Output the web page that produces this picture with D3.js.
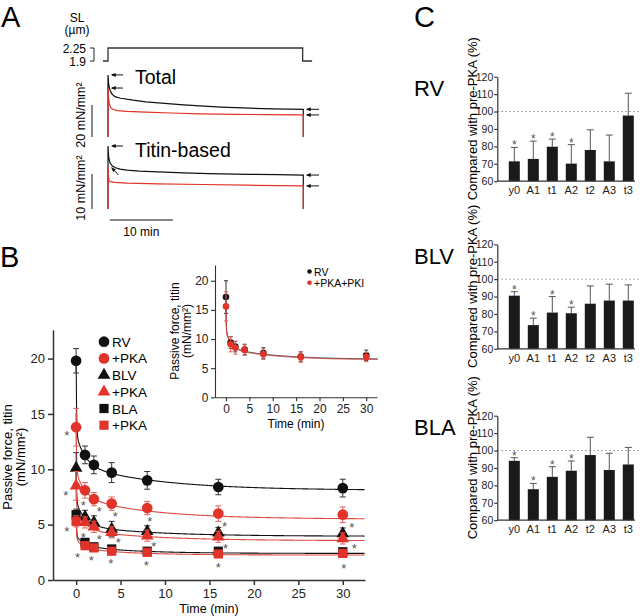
<!DOCTYPE html>
<html>
<head>
<meta charset="utf-8">
<script src="https://cdn.jsdelivr.net/npm/d3@7"></script>
<style>
  body { margin: 0; background: #fff; }
  svg { display: block; font-family: "Liberation Sans", Arial, Helvetica, sans-serif; }
</style>
</head>
<body>
<svg id="fig" width="640" height="616"></svg>
<script>
// ---------- panel A: recorded traces (time in min) ----------
var slTime = [-0.8, 0, 0, 30.9, 30.9, 32.4];
var slLength = [1.9, 1.9, 2.25, 2.25, 1.9, 1.9];
var totalTime = [0, 0, 0.1, 0.3, 0.6, 1.1, 2, 4, 6, 9, 12, 14.6, 18, 22.5, 26, 31, 31];
var totalCtrl = [0, 38.8, 33, 29.5, 27, 25.2, 24.2, 23, 22, 21, 20.1, 19.4, 18.7, 18, 17.6, 17.3, 0];
var totalPkaTime = [0, 0, 0.08, 0.2, 0.4, 0.8, 1.5, 3, 6, 10, 14.6, 20, 25, 31, 31];
var totalPka = [0, 30.6, 25, 21, 18.5, 17.2, 16.5, 16, 15.5, 15, 14.5, 14.2, 14, 13.8, 0];
var titinTime = [0, 0, 0.1, 0.3, 0.7, 1.2, 1.9, 3, 5, 8, 12, 16, 22, 27, 31, 31];
var titinCtrl = [0, 18, 15, 13.2, 12.3, 11.8, 11.4, 11.1, 10.8, 10.6, 10.3, 10.1, 9.9, 9.8, 9.7, 0];
var titinPkaTime = [0, 0, 0.05, 0.15, 0.35, 1, 3, 8, 15, 22, 31, 31];
var titinPka = [0, 12, 9.5, 8.2, 7.8, 7.6, 7.4, 7.2, 7.0, 6.8, 6.6, 0];

// ---------- panel B: passive titin force (mN/mm2) ----------
var times = [0, 1, 2, 4, 8, 16, 30];
var rv = [19.8, 11.3, 10.4, 9.7, 9.0, 8.4, 8.3];
var rvErr = [1.1, 0.8, 0.8, 0.9, 0.8, 0.7, 0.8];
var rvPka = [13.8, 8.1, 7.3, 6.9, 6.5, 6.0, 5.9];
var rvPkaErr = [1.7, 0.7, 0.6, 0.6, 0.6, 0.7, 0.7];
var blv = [10.1, 5.7, 5.2, 4.6, 4.4, 4.25, 4.2];
var blvErr = [1.4, 0.6, 0.6, 0.7, 0.5, 0.5, 0.5];
var blvPka = [8.5, 5.2, 4.8, 4.3, 4.0, 3.9, 3.75];
var blvPkaErr = [1.3, 0.5, 0.5, 0.5, 0.5, 0.5, 0.5];
var bla = [5.9, 3.4, 3.0, 2.8, 2.6, 2.6, 2.55];
var blaErr = [0.5, 0.3, 0.3, 0.3, 0.3, 0.3, 0.3];
var blaPka = [5.3, 3.1, 2.9, 2.6, 2.5, 2.35, 2.4];
var blaPkaErr = [0.5, 0.3, 0.3, 0.3, 0.3, 0.3, 0.3];
// fit parameters: y0, A1, t1, A2, t2, A3, t3
var rvFit = [8.1, 7.0, 0.05, 2.8, 1.0, 2.3, 9];
var rvPkaFit = [5.5, 5.2, 0.05, 2.3, 1.0, 2.0, 8];
var blvFit = [3.95, 3.5, 0.05, 2.1, 1.0, 1.0, 8];
var blvPkaFit = [3.55, 2.5, 0.05, 1.8, 1.0, 1.0, 8];
var blaFit = [2.4, 2.3, 0.05, 0.85, 1.0, 0.7, 6];
var blaPkaFit = [2.25, 2.0, 0.05, 0.8, 1.0, 0.6, 6];
var legendLabels = ["RV", "+PKA", "BLV", "+PKA", "BLA", "+PKA"];
var starTime = [-1.05, -1.15, 0.8, 2.6, 4.4, 8.3, 16.7, 31.0, -1.05, 0.8, 2.6, 4.75, 8.75, 16.8, 31.3, 0.15, 1.7, 3.9, 7.9, 16.0, 30.1];
var starForce = [13.2, 7.8, 6.9, 6.4, 5.9, 5.5, 5.0, 4.9, 4.6, 4.0, 3.8, 3.6, 3.25, 3.0, 3.0, 2.25, 1.95, 1.65, 1.5, 1.35, 1.25];
var xTicks = [0, 5, 10, 15, 20, 25, 30];
var yTicks = [0, 5, 10, 15, 20];

// inset: RV vs +PKA+PKI
var insetRv = [17.2, 9.4, 8.7, 8.2, 7.6, 7.0, 7.2];
var insetRvErr = [2.8, 1.0, 0.9, 0.9, 0.9, 0.8, 0.9];
var insetPki = [15.6, 9.1, 8.5, 8.1, 7.4, 6.9, 6.9];
var insetPkiErr = [2.5, 1.3, 1.1, 0.9, 0.9, 0.9, 0.8];
var insetRvFit = [6.5, 5.7, 0.05, 3.0, 1.0, 2.0, 10];
var insetPkiFit = [6.4, 4.3, 0.05, 2.9, 1.0, 2.0, 10];
var insetLabels = ["RV", "+PKA+PKI"];

// ---------- panel C: % of pre-PKA ----------
var params = ["y0", "A1", "t1", "A2", "t2", "A3", "t3"];
var rvPct = [71.4, 72.8, 79.8, 70.1, 77.9, 71.4, 97.7];
var rvPctErr = [8.0, 10.2, 4.4, 10.9, 11.6, 15.1, 12.8];
var blvPct = [90.5, 73.6, 80.8, 80.4, 85.9, 87.7, 87.7];
var blvPctErr = [2.3, 4.0, 9.2, 3.5, 10.2, 9.4, 9.0];
var blaPct = [94.1, 77.8, 84.9, 88.4, 97.4, 88.8, 92.0];
var blaPctErr = [1.8, 3.3, 5.8, 5.6, 10.2, 9.6, 9.8];
var significant = [1, 1, 1, 1, 0, 0, 0];
var pctTicks = [60, 70, 80, 90, 100, 110, 120];

var red = "#e2332b", redFit = "#dd4a44", black = "#111";

var svg = d3.select("#fig");
svg.append("rect").attr("width", 640).attr("height", 616).attr("fill", "#fff");

svg.append("defs").append("marker")
    .attr("id", "head")
    .attr("viewBox", "0 0 8 8")
    .attr("refX", 6).attr("refY", 4)
    .attr("markerWidth", 5).attr("markerHeight", 5)
    .attr("orient", "auto")
  .append("path")
    .attr("d", "M0,0.8 L8,4 L0,7.2 Z")
    .attr("fill", "#111");

function panelLetter(txt, x, y) {
  svg.append("text").attr("x", x).attr("y", y).style("font-size", "29px").text(txt);
}
panelLetter("A", 1, 26.5);
panelLetter("B", 0, 266.5);
panelLetter("C", 414, 26.5);

function zip(a, b) { return a.map(function(d, i) { return [d, b[i]]; }); }

// ================= A =================
var xA = d3.scaleLinear().domain([0, 10]).range([108, 171]);
var ySL = d3.scaleLinear().domain([1.9, 2.25]).range([61, 48]);
var yTot = d3.scaleLinear().domain([0, 20]).range([137, 105]);
var yTit = d3.scaleLinear().domain([0, 10]).range([209, 174]);

var gA = svg.append("g");
var lineSL = d3.line().x(function(d) { return xA(d[0]); }).y(function(d) { return ySL(d[1]); });
gA.append("path").datum(zip(slTime, slLength)).attr("d", lineSL)
    .attr("fill", "none").attr("stroke", "#333").attr("stroke-width", 1.3);

gA.append("text").attr("x", 77).attr("y", 21.5).attr("text-anchor", "middle").style("font-size", "12px").text("SL");
gA.append("text").attr("x", 77).attr("y", 34).attr("text-anchor", "middle").style("font-size", "12px").text("(\u00b5m)");
gA.append("text").attr("x", 86).attr("y", ySL(2.25) + 4.5).attr("text-anchor", "end").style("font-size", "12px").text("2.25");
gA.append("text").attr("x", 86).attr("y", ySL(1.9) + 4.5).attr("text-anchor", "end").style("font-size", "12px").text("1.9");
gA.append("path")
    .attr("d", "M90," + ySL(2.25) + "H94V" + ySL(1.9) + "H90")
    .attr("fill", "none").attr("stroke", "#222").attr("stroke-width", 1);

function trace(t, f, yScale, color) {
  var ln = d3.line().x(function(d) { return xA(d[0]); }).y(function(d) { return yScale(d[1]); });
  gA.append("path").datum(zip(t, f)).attr("d", ln)
      .attr("fill", "none").attr("stroke", color).attr("stroke-width", 1.2);
}
trace(totalTime, totalCtrl, yTot, black);
trace(totalPkaTime, totalPka, yTot, red);
trace(titinTime, titinCtrl, yTit, black);
trace(titinPkaTime, titinPka, yTit, red);

function arrow(x1, y1, x2, y2) {
  gA.append("line").attr("x1", x1).attr("y1", y1).attr("x2", x2).attr("y2", y2)
      .attr("stroke", "#111").attr("stroke-width", 1).attr("marker-end", "url(#head)");
}
arrow(123, yTot(38.8), 112, yTot(38.8));
arrow(123, yTot(30.6), 112, yTot(30.6));
arrow(319, yTot(17.3), 307, yTot(17.3));
arrow(319, yTot(13.8), 307, yTot(13.8));
arrow(123, yTit(18), 112, yTit(18));
arrow(118.5, 175, 112, 168);
arrow(319, yTit(9.7), 307, yTit(9.7));
arrow(319, yTit(6.6), 307, yTit(6.6));

gA.append("text").attr("x", 135).attr("y", 84).style("font-size", "19.5px").text("Total");
gA.append("text").attr("x", 135).attr("y", 157).style("font-size", "19.5px").text("Titin-based");

// scale bars
gA.append("line").attr("x1", 92).attr("x2", 92).attr("y1", yTot(0)).attr("y2", yTot(20)).attr("stroke", "#111");
gA.append("line").attr("x1", 92).attr("x2", 92).attr("y1", yTit(0)).attr("y2", yTit(10)).attr("stroke", "#111");
gA.append("line").attr("x1", xA(0.3)).attr("x2", xA(10.3)).attr("y1", 220).attr("y2", 220).attr("stroke", "#111");
gA.append("text").attr("x", (xA(0.3) + xA(10.3)) / 2).attr("y", 236).attr("text-anchor", "middle").style("font-size", "12px").text("10 min");
gA.append("text").attr("transform", "translate(85,115) rotate(-90)").attr("text-anchor", "middle").style("font-size", "12.5px").text("20 mN/mm\u00b2");
gA.append("text").attr("transform", "translate(85,188) rotate(-90)").attr("text-anchor", "middle").style("font-size", "12.5px").text("10 mN/mm\u00b2");

// ================= B =================
function fitValue(p, t) {
  return p[0] + p[1] * Math.exp(-t / p[2]) + p[3] * Math.exp(-t / p[4]) + p[5] * Math.exp(-t / p[6]);
}

function styleAxis(g, size, width) {
  g.selectAll("path, line").attr("stroke", "#333").attr("stroke-width", width);
  g.selectAll("text").attr("fill", "#222").style("font-size", size);
  g.attr("font-family", null);
}

var xB = d3.scaleLinear().domain([-2.6, 32.5]).range([53, 365]);
var yB = d3.scaleLinear().domain([0, 22.6]).range([580, 329.8]);
var gB = svg.append("g");

gB.append("g").attr("transform", "translate(0,580)")
    .call(d3.axisBottom(xB).tickValues(xTicks).tickSize(5).tickSizeOuter(0).tickPadding(4))
    .call(styleAxis, "13px", 1.5);
gB.append("g").attr("transform", "translate(53,0)")
    .call(d3.axisLeft(yB).tickValues(yTicks).tickSize(5).tickSizeOuter(0).tickPadding(3))
    .call(styleAxis, "13px", 1.5);
gB.append("text").attr("x", 209).attr("y", 613).attr("text-anchor", "middle").style("font-size", "12.5px").text("Time (min)");
gB.append("text").attr("transform", "translate(12,457) rotate(-90)").attr("text-anchor", "middle").style("font-size", "13px").text("Passive force, titin");
gB.append("text").attr("transform", "translate(25,457) rotate(-90)").attr("text-anchor", "middle").style("font-size", "13px").text("(mN/mm\u00b2)");

var series = [
  {v: rv, e: rvErr, fit: rvFit, color: black, fitColor: black, shape: d3.symbolCircle, size: 90},
  {v: rvPka, e: rvPkaErr, fit: rvPkaFit, color: red, fitColor: redFit, shape: d3.symbolCircle, size: 90},
  {v: blv, e: blvErr, fit: blvFit, color: black, fitColor: black, shape: d3.symbolTriangle, size: 70},
  {v: blvPka, e: blvPkaErr, fit: blvPkaFit, color: red, fitColor: redFit, shape: d3.symbolTriangle, size: 70},
  {v: bla, e: blaErr, fit: blaFit, color: black, fitColor: black, shape: d3.symbolSquare, size: 85},
  {v: blaPka, e: blaPkaErr, fit: blaPkaFit, color: red, fitColor: redFit, shape: d3.symbolSquare, size: 85}
];

var fitGrid = d3.range(0, 32.5, 0.05);

function drawFit(g, s, x, y, fitW) {
  var ln = d3.line().x(function(t) { return x(t); }).y(function(t) { return y(fitValue(s.fit, t)); });
  g.append("path").datum(fitGrid).attr("d", ln)
      .attr("fill", "none").attr("stroke", s.fitColor).attr("stroke-width", fitW);
}

function drawPoints(g, s, x, y, capW, drawMarker) {
  var eb = g.append("g").attr("stroke", s.color === red ? "#e4605a" : "#333").attr("stroke-width", 1);
  times.forEach(function(t, i) {
    var cx = x(t), lo = y(s.v[i] - s.e[i]), hi = y(s.v[i] + s.e[i]);
    eb.append("line").attr("x1", cx).attr("x2", cx).attr("y1", lo).attr("y2", hi);
    eb.append("line").attr("x1", cx - capW).attr("x2", cx + capW).attr("y1", lo).attr("y2", lo);
    eb.append("line").attr("x1", cx - capW).attr("x2", cx + capW).attr("y1", hi).attr("y2", hi);
  });
  times.forEach(function(t, i) { drawMarker(g, x(t), y(s.v[i])); });
}

series.forEach(function(s) { drawFit(gB, s, xB, yB, 1.1); });
series.forEach(function(s) {
  drawPoints(gB, s, xB, yB, 3, function(g, cx, cy) {
    g.append("path").attr("d", d3.symbol().type(s.shape).size(s.size)())
        .attr("transform", "translate(" + cx + "," + cy + ")").attr("fill", s.color);
  });
});

gB.selectAll(".star").data(starTime).enter().append("text")
    .attr("class", "star")
    .attr("x", function(d) { return xB(d); })
    .attr("y", function(d, i) { return yB(starForce[i]) + 6.5; })
    .attr("text-anchor", "middle").attr("fill", "#555").style("font-size", "13px")
    .text("*");

legendLabels.forEach(function(lab, i) {
  var s = series[i], ly = 341.7 + i * 16.7;
  gB.append("path").attr("d", d3.symbol().type(s.shape).size(s.size)())
      .attr("transform", "translate(104," + ly + ")").attr("fill", s.color);
  gB.append("text").attr("x", 112).attr("y", ly + 5).style("font-size", "13.5px").text(lab);
});

// ---- inset ----
var xI = d3.scaleLinear().domain([-2.35, 32.3]).range([215, 377]);
var yI = d3.scaleLinear().domain([0, 22.7]).range([397.3, 265]);
var gI = svg.append("g");
gI.append("g").attr("transform", "translate(0,397.3)")
    .call(d3.axisBottom(xI).tickValues(xTicks).tickSize(4).tickSizeOuter(0).tickPadding(3.5))
    .call(styleAxis, "12px", 1.1);
gI.append("g").attr("transform", "translate(215,0)")
    .call(d3.axisLeft(yI).tickValues(yTicks).tickSize(4).tickSizeOuter(0).tickPadding(2.5))
    .call(styleAxis, "12px", 1.1);
gI.append("text").attr("x", 296).attr("y", 428).attr("text-anchor", "middle").style("font-size", "12px").text("Time (min)");
gI.append("text").attr("transform", "translate(179,331) rotate(-90)").attr("text-anchor", "middle").style("font-size", "12px").text("Passive force, titin");
gI.append("text").attr("transform", "translate(191,331) rotate(-90)").attr("text-anchor", "middle").style("font-size", "12px").text("(mN/mm\u00b2)");

var insetSeries = [
  {v: insetRv, e: insetRvErr, fit: insetRvFit, color: black, fitColor: black},
  {v: insetPki, e: insetPkiErr, fit: insetPkiFit, color: red, fitColor: redFit}
];
insetSeries.forEach(function(s) { drawFit(gI, s, xI, yI, 1); });
insetSeries.forEach(function(s) {
  drawPoints(gI, s, xI, yI, 2, function(g, cx, cy) {
    g.append("circle").attr("cx", cx).attr("cy", cy).attr("r", 3.3).attr("fill", s.color);
  });
});
insetLabels.forEach(function(lab, i) {
  var ly = 271.5 + i * 11.2;
  gI.append("circle").attr("cx", 309.5).attr("cy", ly).attr("r", 2.3).attr("fill", i ? red : black);
  gI.append("text").attr("x", 314).attr("y", ly + 4).style("font-size", "10.5px").text(lab);
});

// ================= C =================
function barPanel(top, name, vals, errs) {
  var g = svg.append("g");
  var y = d3.scaleLinear().domain([60, 120]).range([top + 104.5, top]);
  var x = d3.scaleBand().domain(params).range([508.8, 633.8]).paddingInner(0.42).paddingOuter(0);

  g.append("line").attr("x1", 497.3).attr("x2", 640).attr("y1", y(100)).attr("y2", y(100))
      .attr("stroke", "#888").attr("stroke-width", 1).attr("stroke-dasharray", "1.5,2.5");

  g.selectAll(".err").data(params).enter().append("g").each(function(p, i) {
    var cx = x(p) + x.bandwidth() / 2, hi = y(vals[i] + errs[i]);
    d3.select(this).append("line").attr("x1", cx).attr("x2", cx).attr("y1", y(vals[i])).attr("y2", hi)
        .attr("stroke", "#555");
    d3.select(this).append("line").attr("x1", cx - 3.5).attr("x2", cx + 3.5).attr("y1", hi).attr("y2", hi)
        .attr("stroke", "#555");
    if (significant[i]) {
      d3.select(this).append("text").attr("x", cx).attr("y", hi + 2)
          .attr("text-anchor", "middle").attr("fill", "#555").style("font-size", "12px").text("*");
    }
  });

  g.selectAll(".bar").data(params).enter().append("rect")
      .attr("x", function(p) { return x(p); })
      .attr("width", x.bandwidth())
      .attr("y", function(p, i) { return y(vals[i]); })
      .attr("height", function(p, i) { return y(60) - y(vals[i]); })
      .attr("fill", "#1a1a1a");

  g.append("g").attr("transform", "translate(497.3,0)")
      .call(d3.axisLeft(y).tickValues(pctTicks).tickSize(3).tickSizeOuter(0).tickPadding(1))
      .call(styleAxis, "10.5px", 1.2);
  g.append("g").attr("transform", "translate(0," + y(60) + ")")
      .call(d3.axisBottom(x).tickSize(0).tickPadding(5))
      .call(styleAxis, "11px", 1.2)
      .select(".domain").remove();
  g.append("line").attr("x1", 497.3).attr("x2", 635).attr("y1", y(60)).attr("y2", y(60))
      .attr("stroke", "#333").attr("stroke-width", 1.2);

  g.append("text").attr("transform", "translate(477," + (top + 42) + ") rotate(-90)")
      .attr("text-anchor", "middle").style("font-size", "13px").text("Compared with pre-PKA (%)");
  g.append("text").attr("x", 414).attr("y", top + 19.5).style("font-size", "22px").text(name);
}

barPanel(76.7, "RV", rvPct, rvPctErr);
barPanel(244.3, "BLV", blvPct, blvPctErr);
barPanel(415.7, "BLA", blaPct, blaPctErr);
</script>
</body>
</html>
